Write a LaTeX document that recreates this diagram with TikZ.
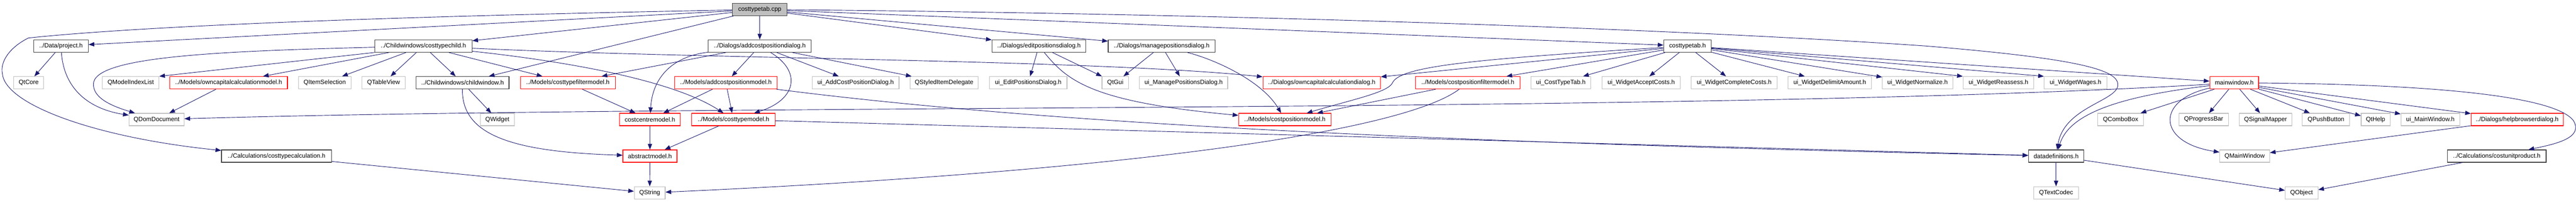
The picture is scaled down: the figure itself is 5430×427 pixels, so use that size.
\documentclass[tikz,border=0pt]{standalone}
\usepackage{fontspec}
\setmainfont{Liberation Sans}
\usetikzlibrary{arrows.meta}
\definecolor{edgeblue}{HTML}{191970}
\definecolor{rootgray}{HTML}{BFBFBF}
\definecolor{sysgray}{HTML}{BFBFBF}
\definecolor{boxblack}{HTML}{404040}

\begin{document}
\begin{tikzpicture}[x=1pt, y=-1pt,
    >={Triangle[length=12pt, width=9pt]},
    file/.style={draw, rectangle, line width=1.3pt, minimum height=26pt, inner sep=0pt, font=\fontsize{13}{15}\selectfont},
    root/.style={file, draw=boxblack, fill=rootgray},
    local/.style={file, draw=boxblack, fill=white},
    part/.style={file, draw=red, fill=white},
    sys/.style={file, draw=sysgray, fill=white},
    dep/.style={->, draw=edgeblue, fill=none, line width=1pt}]
  \useasboundingbox (0,0) rectangle (5430,427);

  \node[root, minimum width=115] (cpp) at (1601.5,20) {costtypetab.cpp};

  \node[local, minimum width=115] (project) at (128.5,97) {../Data/project.h};
  \node[local, minimum width=205] (child) at (892.5,97) {../Childwindows/costtypechild.h};
  \node[local, minimum width=217] (adddialog) at (1601.5,97) {../Dialogs/addcostpositiondialog.h};
  \node[local, minimum width=198] (editdialog) at (2190,97) {../Dialogs/editpositionsdialog.h};
  \node[local, minimum width=225] (managedialog) at (2448.5,97) {../Dialogs/managepositionsdialog.h};
  \node[local, minimum width=100] (tabh) at (3557,97) {costtypetab.h};

  \node[sys, minimum width=63] (qtcore) at (60.5,174.5) {QtCore};
  \node[sys, minimum width=119] (indexlist) at (275.5,174.5) {QModelIndexList};
  \node[part, minimum width=248] (owncapmodel) at (482,174.5) {../Models/owncapitalcalculationmodel.h};
  \node[sys, minimum width=111] (itemsel) at (684.5,174.5) {QItemSelection};
  \node[sys, minimum width=91] (tableview) at (808.5,174.5) {QTableView};
  \node[local, minimum width=196] (childwin) at (975,174.5) {../Childwindows/childwindow.h};
  \node[part, minimum width=200] (filtermodel) at (1197,174.5) {../Models/costtypefiltermodel.h};
  \node[part, minimum width=216] (addmodel) at (1530,174.5) {../Models/addcostpositionmodel.h};
  \node[sys, minimum width=183] (uiadd) at (1803.5,174.5) {ui\_AddCostPositionDialog.h};
  \node[sys, minimum width=144] (delegate) at (1990,174.5) {QStyledItemDelegate};
  \node[sys, minimum width=163] (uiedit) at (2167.5,174.5) {ui\_EditPositionsDialog.h};
  \node[sys, minimum width=56] (qtgui) at (2351,174.5) {QtGui};
  \node[sys, minimum width=186] (uimanage) at (2495,174.5) {ui\_ManagePositionsDialog.h};
  \node[part, minimum width=248] (owncapdialog) at (2786,174.5) {../Dialogs/owncapitalcalculationdialog.h};
  \node[part, minimum width=220] (posfilter) at (3094,174.5) {../Models/costpositionfiltermodel.h};
  \node[sys, minimum width=126] (uitab) at (3290,174.5) {ui\_CostTypeTab.h};
  \node[sys, minimum width=165] (uiaccept) at (3459.5,174.5) {ui\_WidgetAcceptCosts.h};
  \node[sys, minimum width=181] (uicomplete) at (3655.5,174.5) {ui\_WidgetCompleteCosts.h};
  \node[sys, minimum width=176] (uidelimit) at (3857,174.5) {ui\_WidgetDelimitAmount.h};
  \node[sys, minimum width=148] (uinormalize) at (4042,174.5) {ui\_WidgetNormalize.h};
  \node[sys, minimum width=149] (uireassess) at (4212.5,174.5) {ui\_WidgetReassess.h};
  \node[sys, minimum width=132] (uiwages) at (4375,174.5) {ui\_WidgetWages.h};
  \node[part, minimum width=103] (mainwin) at (4709.5,174.5) {mainwindow.h};

  \node[sys, minimum width=116] (domdoc) at (330,252) {QDomDocument};
  \node[sys, minimum width=71] (qwidget) at (1048.5,252) {QWidget};
  \node[part, minimum width=128] (centremodel) at (1370,252) {costcentremodel.h};
  \node[part, minimum width=176] (typemodel) at (1546,252) {../Models/costtypemodel.h};
  \node[part, minimum width=195] (posmodel) at (2708.5,252) {../Models/costpositionmodel.h};
  \node[sys, minimum width=96] (combobox) at (4470,252) {QComboBox};
  \node[sys, minimum width=104] (progressbar) at (4645,252) {QProgressBar};
  \node[sys, minimum width=111] (signalmapper) at (4775.5,252) {QSignalMapper};
  \node[sys, minimum width=100] (pushbutton) at (4903,252) {QPushButton};
  \node[sys, minimum width=61] (qthelp) at (5007.5,252) {QtHelp};
  \node[sys, minimum width=124] (uimain) at (5123,252) {ui\_MainWindow.h};
  \node[part, minimum width=194] (helpdialog) at (5306,252) {../Dialogs/helpbrowserdialog.h};

  \node[local, minimum width=232] (calc) at (583,329) {../Calculations/costtypecalculation.h};
  \node[part, minimum width=114] (abstract) at (1370,329) {abstractmodel.h};
  \node[local, minimum width=116] (datadefs) at (4334,329) {datadefinitions.h};
  \node[sys, minimum width=105] (qmainwindow) at (4731.5,329) {QMainWindow};
  \node[local, minimum width=208] (unitproduct) at (5263,329) {../Calculations/costunitproduct.h};

  \node[sys, minimum width=65] (qstring) at (1369.5,406.5) {QString};
  \node[sys, minimum width=94] (textcodec) at (4334,406.5) {QTextCodec};
  \node[sys, minimum width=69] (qobject) at (4851.5,406.5) {QObject};

  \draw[dep] (cpp) .. controls (800,35) and (300,55) .. (60,80) .. controls (20,100) and (0,130) .. (5,155) .. controls (10,220) and (200,290) .. (calc);
  \draw[dep] (cpp) -- (project);
  \draw[dep] (cpp) -- (child);
  \draw[dep] (cpp) -- (childwin);
  \draw[dep] (cpp) -- (adddialog);
  \draw[dep] (cpp) -- (editdialog);
  \draw[dep] (cpp) -- (managedialog);
  \draw[dep] (cpp) -- (tabh);
  \draw[dep] (cpp) .. controls (2700,30) and (3600,65) .. (4060,97) .. controls (4400,125) and (4475,150) .. (4463,185) .. controls (4450,215) and (4350,230) .. (datadefs);

  \draw[dep] (project) -- (qtcore);
  \draw[dep] (project) .. controls (135,190) and (190,230) .. (domdoc);

  \draw[dep] (child) .. controls (450,108) and (195,120) .. (197,178) .. controls (197,205) and (230,222) .. (domdoc);
  \draw[dep] (child.south west) -- (indexlist.north east);
  \draw[dep] (child) -- (owncapmodel);
  \draw[dep] (child) -- (itemsel);
  \draw[dep] (child) -- (tableview);
  \draw[dep] (child) -- (childwin);
  \draw[dep] (child) -- (filtermodel);
  \draw[dep] (child) .. controls (1200,130) and (1420,170) .. (typemodel);
  \draw[dep] (child) .. controls (1500,125) and (2300,125) .. (owncapdialog);

  \draw[dep] (childwin) -- (qwidget);
  \draw[dep] (childwin) .. controls (973,285) and (1080,320) .. (abstract);
  \draw[dep] (owncapmodel) -- (domdoc);

  \draw[dep] (adddialog) -- (addmodel);
  \draw[dep] (adddialog) -- (uiadd);
  \draw[dep] (adddialog) -- (delegate);
  \draw[dep] (adddialog) -- (filtermodel);
  \draw[dep] (adddialog) .. controls (1410,120) and (1375,170) .. (centremodel);
  \draw[dep] (adddialog) .. controls (1690,150) and (1680,210) .. (typemodel);

  \draw[dep] (addmodel) -- (centremodel);
  \draw[dep] (addmodel) -- (typemodel);
  \draw[dep] (addmodel) .. controls (2200,260) and (3000,300) .. (datadefs);
  \draw[dep] (filtermodel) -- (centremodel);
  \draw[dep] (centremodel) -- (abstract);
  \draw[dep] (typemodel) -- (abstract);
  \draw[dep] (typemodel) -- (datadefs);
  \draw[dep] (abstract) -- (qstring);
  \draw[dep] (calc) -- (qstring);

  \draw[dep] (editdialog) -- (uiedit);
  \draw[dep] (editdialog) -- (qtgui);
  \draw[dep] (editdialog) .. controls (2250,170) and (2300,215) .. (posmodel);
  \draw[dep] (managedialog) -- (qtgui);
  \draw[dep] (managedialog) -- (uimanage);
  \draw[dep] (managedialog) .. controls (2560,125) and (2660,170) .. (posmodel);

  \draw[dep] (tabh) -- (owncapdialog);
  \draw[dep] (tabh) .. controls (3100,125) and (2950,140) .. (2935,175) .. controls (2925,195) and (2850,210) .. (posmodel);
  \draw[dep] (tabh) -- (posfilter);
  \draw[dep] (tabh) -- (uitab);
  \draw[dep] (tabh) -- (uiaccept);
  \draw[dep] (tabh) -- (uicomplete);
  \draw[dep] (tabh) -- (uidelimit);
  \draw[dep] (tabh) -- (uinormalize);
  \draw[dep] (tabh) -- (uireassess.north west);
  \draw[dep] (tabh) -- (uiwages.north west);
  \draw[dep] (tabh) -- (mainwin);

  \draw[dep] (posfilter) -- (posmodel);
  \draw[dep] (posfilter) .. controls (2960,275) and (2400,360) .. (qstring);

  \draw[dep] (mainwin) .. controls (3600,240) and (1500,218) .. (domdoc);
  \draw[dep] (mainwin) .. controls (4450,205) and (4360,245) .. (datadefs);
  \draw[dep] (mainwin) -- (combobox);
  \draw[dep] (mainwin) .. controls (4545,210) and (4545,300) .. (qmainwindow);
  \draw[dep] (mainwin) -- (progressbar);
  \draw[dep] (mainwin) -- (signalmapper);
  \draw[dep] (mainwin) -- (pushbutton);
  \draw[dep] (mainwin) -- (qthelp);
  \draw[dep] (mainwin) -- (uimain);
  \draw[dep] (mainwin) -- (helpdialog);
  \draw[dep] (mainwin) .. controls (5150,178) and (5390,205) .. (5425,255) .. controls (5445,290) and (5390,303) .. (unitproduct);
  \draw[dep] (helpdialog) -- (qmainwindow);
  \draw[dep] (unitproduct) -- (qobject);
  \draw[dep] (datadefs) -- (qobject);
  \draw[dep] (datadefs) -- (textcodec);
\end{tikzpicture}
\end{document}
